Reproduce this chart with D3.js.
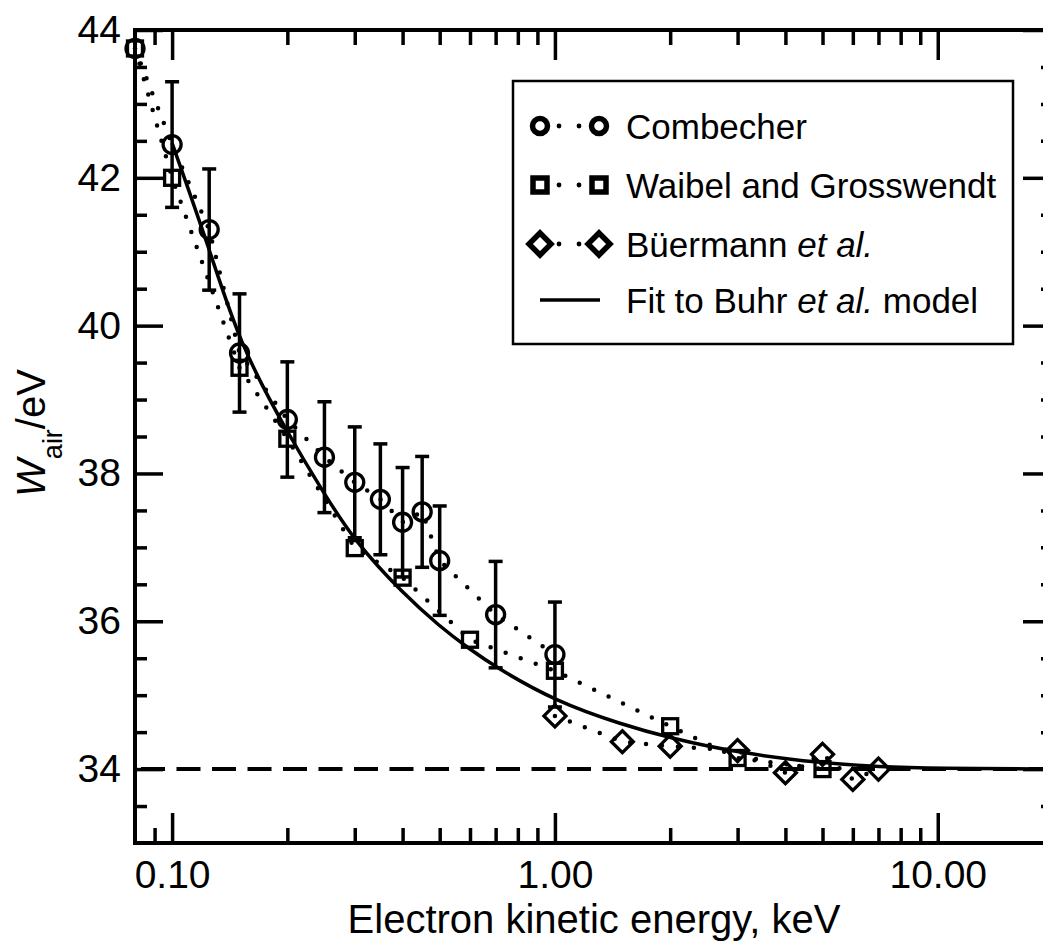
<!DOCTYPE html>
<html>
<head>
<meta charset="utf-8">
<script src="https://cdn.jsdelivr.net/npm/d3@7"></script>
<style>
  body { margin: 0; background: #fff; }
  text { font-family: "Liberation Sans", Arial, Helvetica, sans-serif; fill: #000; }
</style>
</head>
<body>
<script>
const width = 1043;
const height = 943;

// Combecher (circles with error bars)
const energyCombecher = [0.08, 0.1, 0.125, 0.15, 0.2, 0.25, 0.3, 0.35, 0.4, 0.45, 0.5, 0.7, 1.0];
const wCombecher      = [43.75, 42.45, 41.30, 39.63, 38.73, 38.22, 37.88, 37.65, 37.34, 37.48, 36.82, 36.09, 35.55];
const errCombecher    = [0, 0.85, 0.82, 0.80, 0.78, 0.75, 0.75, 0.75, 0.74, 0.75, 0.74, 0.72, 0.71];

// Waibel and Grosswendt (squares)
const energyWaibel = [0.08, 0.1, 0.15, 0.2, 0.3, 0.4, 0.6, 1.0, 2.0, 3.0, 5.0];
const wWaibel      = [43.75, 42.0, 39.43, 38.47, 36.99, 36.59, 35.75, 35.33, 34.58, 34.15, 34.0];

// Bueermann et al. (diamonds)
const energyBuermann = [1.0, 1.5, 2.0, 3.0, 4.0, 5.0, 6.0, 7.0];
const wBuermann      = [34.72, 34.37, 34.31, 34.25, 33.95, 34.2, 33.86, 34.0];

// fit to Buhr et al. model
const energyFit = [0.1, 0.125, 0.15, 0.2, 0.25, 0.3, 0.4, 0.5, 0.6, 0.7, 1.0, 1.5, 2.0, 3.0, 5.0, 7.0, 10.0, 20.0];
const wFit      = [42.47, 41.05, 39.75, 38.55, 37.72, 37.08, 36.38, 35.93, 35.62, 35.38, 34.92, 34.6, 34.42, 34.22, 34.08, 34.03, 34.01, 34.0];

const wLimit = 34;

const xTicksMajor = [0.1, 1, 10];
const xTicksMinor = [0.09, 0.2, 0.3, 0.4, 0.5, 0.6, 0.7, 0.8, 0.9, 2, 3, 4, 5, 6, 7, 8, 9];
const yTicksMajor = [34, 36, 38, 40, 42, 44];
const yTicksMinor = [33.5, 34.5, 35, 35.5, 36.5, 37, 37.5, 38.5, 39, 39.5, 40.5, 41, 41.5, 42.5, 43, 43.5];

const plotLeft = 135, plotRight = 1053, plotTop = 30, plotBottom = 843;

const svg = d3.select("body").append("svg")
    .attr("width", width)
    .attr("height", height);

const x = d3.scaleLog().domain([0.08, 20]).range([plotLeft, plotRight]);
const y = d3.scaleLinear().domain([33, 44]).range([plotBottom, plotTop]);

// axes
function styleAxis(g, size) {
    g.select(".domain").remove();
    g.selectAll(".tick line").attr("stroke", "#000").attr("stroke-width", 3.5);
    g.selectAll(".tick text").attr("font-size", size + "px")
        .attr("font-family", "Liberation Sans, Arial, sans-serif");
}

svg.append("g").attr("transform", `translate(0,${plotBottom})`)
    .call(d3.axisBottom(x).tickValues(xTicksMajor).tickFormat(d3.format(".2f"))
        .tickSizeInner(-30).tickSizeOuter(0).tickPadding(17))
    .call(g => styleAxis(g, 39));
svg.append("g").attr("transform", `translate(0,${plotBottom})`)
    .call(d3.axisBottom(x).tickValues(xTicksMinor).tickFormat("").tickSizeInner(-15).tickSizeOuter(0))
    .call(g => styleAxis(g, 1));
svg.append("g").attr("transform", `translate(0,${plotTop})`)
    .call(d3.axisTop(x).tickValues(xTicksMajor).tickFormat("").tickSizeInner(-30).tickSizeOuter(0))
    .call(g => styleAxis(g, 1));
svg.append("g").attr("transform", `translate(0,${plotTop})`)
    .call(d3.axisTop(x).tickValues(xTicksMinor).tickFormat("").tickSizeInner(-15).tickSizeOuter(0))
    .call(g => styleAxis(g, 1));

svg.append("g").attr("transform", `translate(${plotLeft},0)`)
    .call(d3.axisLeft(y).tickValues(yTicksMajor).tickFormat(d3.format("d"))
        .tickSizeInner(-28).tickSizeOuter(0).tickPadding(14))
    .call(g => styleAxis(g, 39));
svg.append("g").attr("transform", `translate(${plotLeft},0)`)
    .call(d3.axisLeft(y).tickValues(yTicksMinor).tickFormat("").tickSizeInner(-12).tickSizeOuter(0))
    .call(g => styleAxis(g, 1));
svg.append("g").attr("transform", `translate(${plotRight},0)`)
    .call(d3.axisRight(y).tickValues(yTicksMajor).tickFormat("").tickSizeInner(-30).tickSizeOuter(0))
    .call(g => styleAxis(g, 1));
svg.append("g").attr("transform", `translate(${plotRight},0)`)
    .call(d3.axisRight(y).tickValues(yTicksMinor).tickFormat("").tickSizeInner(-12).tickSizeOuter(0))
    .call(g => styleAxis(g, 1));

svg.append("rect")
    .attr("x", plotLeft).attr("y", plotTop)
    .attr("width", plotRight - plotLeft).attr("height", plotBottom - plotTop)
    .attr("fill", "none").attr("stroke", "#000").attr("stroke-width", 4);

// axis titles
svg.append("text")
    .attr("x", (plotLeft + plotRight) / 2).attr("y", 933)
    .attr("text-anchor", "middle")
    .attr("font-size", "40px")
    .text("Electron kinetic energy, keV");

const ylab = svg.append("text")
    .attr("transform", "translate(45,433) rotate(-90)")
    .attr("text-anchor", "middle")
    .attr("font-size", "40px");
ylab.append("tspan").attr("font-style", "italic").text("W");
ylab.append("tspan").attr("font-size", "27px").attr("dy", 17).text("air");
ylab.append("tspan").attr("dy", -17).text("/eV");

// asymptote
svg.append("line")
    .attr("x1", plotLeft + 6).attr("x2", plotRight)
    .attr("y1", y(wLimit)).attr("y2", y(wLimit))
    .attr("stroke", "#000").attr("stroke-width", 4)
    .attr("stroke-dasharray", "24 11.5");

// fit curve
const fitLine = d3.line().x(d => x(d[0])).y(d => y(d[1])).curve(d3.curveBasis);
svg.append("path")
    .attr("d", fitLine(d3.zip(energyFit, wFit)))
    .attr("fill", "none").attr("stroke", "#000").attr("stroke-width", 3.5);

// dotted connecting lines
const dotLine = d3.line().x(d => x(d[0])).y(d => y(d[1]));
[[energyCombecher, wCombecher], [energyWaibel, wWaibel], [energyBuermann, wBuermann]].forEach(s => {
    svg.append("path")
        .attr("d", dotLine(d3.zip(s[0], s[1])))
        .attr("fill", "none").attr("stroke", "#000").attr("stroke-width", 4.5)
        .attr("stroke-linecap", "round")
        .attr("stroke-dasharray", "0 16");
});

// error bars
const comb = d3.zip(energyCombecher, wCombecher, errCombecher).filter(d => d[2] > 0);
const eb = svg.append("g").attr("stroke", "#000").attr("stroke-width", 3.5);
comb.forEach(d => {
    const cx = x(d[0]);
    eb.append("line").attr("x1", cx).attr("x2", cx).attr("y1", y(d[1] - d[2])).attr("y2", y(d[1] + d[2]));
    eb.append("line").attr("x1", cx - 7).attr("x2", cx + 7).attr("y1", y(d[1] + d[2])).attr("y2", y(d[1] + d[2]));
    eb.append("line").attr("x1", cx - 7).attr("x2", cx + 7).attr("y1", y(d[1] - d[2])).attr("y2", y(d[1] - d[2]));
});

// markers
function circleMark(g, cx, cy, r, sw) {
    g.append("circle").attr("cx", cx).attr("cy", cy).attr("r", r)
        .attr("fill", "none").attr("stroke", "#000").attr("stroke-width", sw);
}
function squareMark(g, cx, cy, s, sw) {
    g.append("rect").attr("x", cx - s / 2).attr("y", cy - s / 2).attr("width", s).attr("height", s)
        .attr("fill", "none").attr("stroke", "#000").attr("stroke-width", sw);
}
function diamondMark(g, cx, cy, r, sw) {
    g.append("path")
        .attr("d", `M${cx},${cy - r}L${cx + r},${cy}L${cx},${cy + r}L${cx - r},${cy}Z`)
        .attr("fill", "none").attr("stroke", "#000").attr("stroke-width", sw)
        .attr("stroke-linejoin", "miter");
}

const marks = svg.append("g");
energyCombecher.forEach((e, i) => circleMark(marks, x(e), y(wCombecher[i]), 9, 3.3));
energyWaibel.forEach((e, i) => squareMark(marks, x(e), y(wWaibel[i]), 15, 3.3));
energyBuermann.forEach((e, i) => diamondMark(marks, x(e), y(wBuermann[i]), 11, 3.3));

// legend
const legend = svg.append("g");
legend.append("rect")
    .attr("x", 513).attr("y", 81).attr("width", 500).attr("height", 263)
    .attr("fill", "#fff").attr("stroke", "#000").attr("stroke-width", 2.5);

const legendRows = [126, 185, 244, 300];
const markFns = [
    (cx, cy) => circleMark(legend, cx, cy, 7.5, 5.5),
    (cx, cy) => squareMark(legend, cx, cy, 14, 5.5),
    (cx, cy) => diamondMark(legend, cx, cy, 11, 5.5)
];
markFns.forEach((fn, i) => {
    const cy = legendRows[i];
    fn(540, cy);
    fn(599, cy);
    [559, 579].forEach(dx => legend.append("circle").attr("cx", dx).attr("cy", cy).attr("r", 2.4).attr("fill", "#000"));
});
legend.append("line")
    .attr("x1", 540).attr("x2", 600).attr("y1", legendRows[3]).attr("y2", legendRows[3])
    .attr("stroke", "#000").attr("stroke-width", 3.5);

const legendText = [
    [["Combecher", false]],
    [["Waibel and Grosswendt", false]],
    [["Büermann ", false], ["et al.", true]],
    [["Fit to Buhr ", false], ["et al.", true], [" model", false]]
];
legendText.forEach((parts, i) => {
    const t = legend.append("text")
        .attr("x", 626).attr("y", legendRows[i]).attr("dy", "0.36em")
        .attr("font-size", "35px");
    parts.forEach(p => {
        t.append("tspan").attr("font-style", p[1] ? "italic" : "normal").text(p[0]);
    });
});
</script>
</body>
</html>
